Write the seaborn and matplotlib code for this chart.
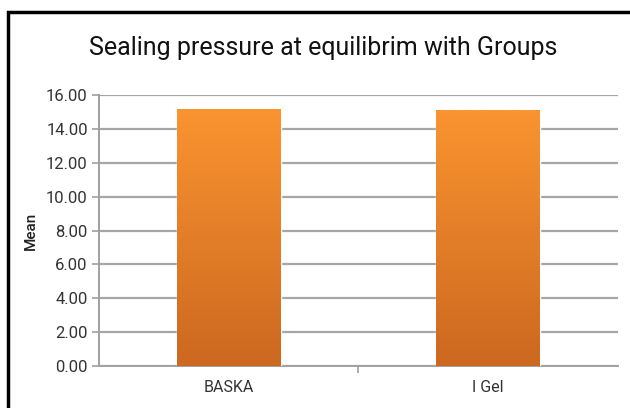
import numpy as np
import pandas as pd
import matplotlib
matplotlib.use("Agg")
import matplotlib.pyplot as plt
import seaborn as sns
from matplotlib.colors import LinearSegmentedColormap
from matplotlib.patches import Rectangle

groups = ["BASKA", "I Gel"]
means = [15.17, 15.10]
y_ticks = [0, 2, 4, 6, 8, 10, 12, 14, 16]

sns.set_theme(style="white")
plt.rcParams["font.family"] = ["Roboto", "DejaVu Sans"]

df = pd.DataFrame({"group": groups, "mean": means})

fig = plt.figure(figsize=(6.3, 4.08), dpi=100)
ax = fig.add_axes([0.157, 0.103, 0.824, 0.664])

sns.barplot(data=df, x="group", y="mean", color="#F28A2A", width=0.4,
            saturation=1, ax=ax, zorder=3)

# vertical gradient fill on each bar
grad = LinearSegmentedColormap.from_list("og", ["#CC6820", "#FA9430"])
img = np.linspace(0, 1, 256).reshape(-1, 1)
for p in ax.patches:
    x0, y0 = p.get_x(), p.get_y()
    w, h = p.get_width(), p.get_height()
    im = ax.imshow(img, cmap=grad, aspect="auto", origin="lower",
                   extent=[x0, x0 + w, y0, y0 + h], zorder=4)
    im.set_clip_path(p)
ax.set_xlim(-0.5, 1.5)
ax.set_ylim(0, 16)

ax.set_yticks(y_ticks)
ax.set_yticklabels([f"{v:.2f}" for v in y_ticks], fontsize=12, color="#333333")
ax.yaxis.grid(True, color="#A6A6A6", linewidth=1.6, zorder=0)
ax.set_axisbelow(True)
ax.tick_params(axis="y", length=5, width=1.2, color="#A0A0A0", left=True, pad=3)

ax.set_xticks([0, 1])
ax.set_xticklabels(groups, fontsize=11.5, color="#333333")
ax.set_xticks([0.5], minor=True)
ax.tick_params(axis="x", which="major", length=0, pad=10)
ax.tick_params(axis="x", which="minor", length=5, width=1.2, color="#A0A0A0", bottom=True)

ax.set_xlabel("")
ax.set_ylabel("Mean", fontsize=11, color="#222222", labelpad=6, fontweight="medium")

for s in ["top", "right"]:
    ax.spines[s].set_visible(False)
for s in ["left", "bottom"]:
    ax.spines[s].set_color("#A0A0A0")
    ax.spines[s].set_linewidth(1.4)

fig.text(0.513, 0.882, "Sealing pressure at equilibrim with Groups",
         ha="center", va="center", fontsize=18, color="#111111")

# chart frame
fig.patches.append(Rectangle((8 / 630, -0.01), 1.0, 1.0 - 12 / 408 + 0.01,
                             transform=fig.transFigure, fill=False,
                             edgecolor="black", linewidth=2.5))

fig.savefig("out.png", dpi=100)
